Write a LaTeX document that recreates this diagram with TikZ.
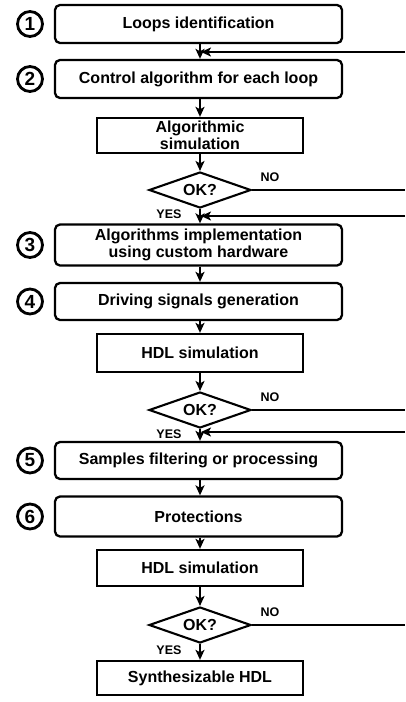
\documentclass[tikz,border=0pt]{standalone}
\usepackage{fontspec}
\setmainfont{Liberation Sans}
\usetikzlibrary{arrows.meta,shapes.geometric}
\begin{document}
\begin{tikzpicture}[x=1pt,y=-1pt,
  mainfont/.style={font=\bfseries\fontsize{16}{17.5}\selectfont},
  rbox/.style={draw,line width=2.3pt,rounded corners=5pt,minimum width=287pt,minimum height=38pt,inner sep=0pt,align=center,mainfont},
  sbox/.style={draw,line width=2.3pt,minimum width=206pt,minimum height=36pt,inner sep=0pt,align=center,mainfont},
  dec/.style={diamond,draw,line width=2.1pt,aspect=2.8,minimum width=102pt,minimum height=36pt,inner sep=0pt,mainfont},
  num/.style={circle,draw,line width=2.8pt,minimum size=25pt,inner sep=0pt,font=\bfseries\fontsize{19}{19}\selectfont},
  lbl/.style={font=\bfseries\fontsize{12.5}{12.5}\selectfont,inner sep=0pt},
  arr/.style={line width=1.9pt,-{Stealth[length=10pt,width=9pt,inset=2.5pt]}},
  ln/.style={line width=1.9pt}]
\useasboundingbox (0,0) rectangle (405,702);
% boxes
\node[rbox] (b1) at (198.5,24) {Loops identification};
\node[rbox] (b2) at (198.5,79) {Control algorithm for each loop};
\node[sbox,minimum height=35pt] (b3) at (200,135.5) {Algorithmic\\simulation};
\node[dec] (d1) at (200,190) {OK?};
\node[rbox,minimum height=41pt,font=\bfseries\fontsize{16}{16.5}\selectfont] (b4) at (198.5,245) {Algorithms implementation\\using custom hardware};
\node[rbox,minimum height=37pt] (b5) at (198.5,301.5) {Driving signals generation};
\node[sbox,minimum height=38pt] (b6) at (200,353) {HDL simulation};
\node[dec] (d2) at (200,410) {OK?};
\node[rbox,minimum height=37pt] (b7) at (198.5,460.5) {Samples filtering or processing};
\node[rbox,minimum height=40pt] (b8) at (198.5,516.5) {Protections};
\node[sbox] (b9) at (200,568) {HDL simulation};
\node[dec] (d3) at (200,625) {OK?};
\node[sbox,minimum height=34pt] (b10) at (200,678) {Synthesizable HDL};
% numbers
\node[num] (n1) at (30,24) {1};
\node[num] (n2) at (30,79) {2};
\node[num] (n3) at (30,245) {3};
\node[num] (n4) at (30,301.5) {4};
\node[num] (n5) at (30,460.5) {5};
\node[num] (n6) at (30,516.5) {6};
% labels
\node[lbl] (no1) at (270,177) {NO};
\node[lbl] (yes1) at (169,214) {YES};
\node[lbl] (no2) at (270,397) {NO};
\node[lbl] (yes2) at (169,434) {YES};
\node[lbl] (no3) at (270,612) {NO};
\node[lbl] (yes3) at (169,650) {YES};
% feedback entry points and right ends
\coordinate (j1) at (201,52);
\coordinate (j2) at (201,216);
\coordinate (j3) at (201,432);
\coordinate (r1) at (405,52);
\coordinate (r2) at (405,190);
\coordinate (r3) at (405,216);
\coordinate (r4) at (405,410);
\coordinate (r5) at (405,432);
\coordinate (r6) at (405,625);
% connectors
\draw[arr] (b1.south -| d1.north) -- (b2.north -| d1.north);
\draw[arr] (r1) -- (j1);
\draw[arr] (b2.south -| d1.north) -- (b3.north);
\draw[arr] (b3.south) -- (d1.north);
\draw[ln] (d1.east) -- (r2);
\draw[arr] (d1.south) -- (b4.north -| d1.south);
\draw[arr] (r3) -- (j2);
\draw[arr] (b4.south -| d1.south) -- (b5.north -| d1.south);
\draw[arr] (b5.south -| d1.south) -- (b6.north);
\draw[arr] (b6.south) -- (d2.north);
\draw[ln] (d2.east) -- (r4);
\draw[arr] (d2.south) -- (b7.north -| d2.south);
\draw[arr] (r5) -- (j3);
\draw[arr] (b7.south -| d2.south) -- (b8.north -| d2.south);
\draw[arr] (b8.south -| d2.south) -- (b9.north);
\draw[arr] (b9.south) -- (d3.north);
\draw[ln] (d3.east) -- (r6);
\draw[arr] (d3.south) -- (b10.north);
\end{tikzpicture}
\end{document}
